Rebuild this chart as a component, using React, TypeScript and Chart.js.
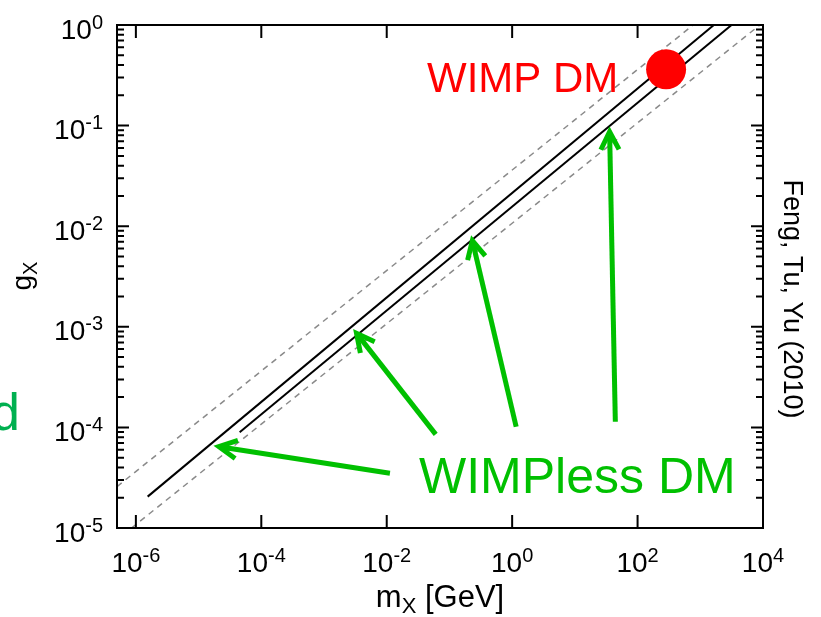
import React, { useEffect, useRef } from 'react';
import { Chart, registerables } from 'chart.js';

Chart.register(...registerables);

// ---- axis ranges ----
const X_MIN = 5.0e-7;
const X_MAX = 1e4;
const Y_MIN = 1e-5;
const Y_MAX = 1;

// ---- tick exponents (labels are 10^e) ----
const xTickExps = [-6, -4, -2, 0, 2, 4];
const yTickExps = [-5, -4, -3, -2, -1, 0];

// ---- curves ----
const upperSolidX = [1.54e-6, 1645];
const upperSolidY = [2.05e-5, 1];
const lowerSolidX = [4.52e-5, 3150];
const lowerSolidY = [8.93e-5, 1];
const upperDashedX = [5.0e-7, 771];
const upperDashedY = [2.58e-5, 1];
const lowerDashedX = [8.53e-7, 1e4];
const lowerDashedY = [1e-5, 1.06];

// ---- WIMP point ----
const wimpX = [285];
const wimpY = [0.363];

// ---- arrows (tail -> tip), data coordinates ----
const arrowTailX = [0.01125, 0.0604, 1.159, 44.2];
const arrowTailY = [3.5e-5, 8.53e-5, 1.016e-4, 1.14e-4];
const arrowTipX = [2.11e-5, 3.3e-3, 0.232, 35.8];
const arrowTipY = [6.43e-5, 8.61e-4, 7.18e-3, 0.0869];

const FONT = '"Liberation Sans", Arial, Helvetica, sans-serif';

const pts = (xs: number[], ys: number[]) => xs.map((x, i) => ({ x, y: ys[i] }));

function drawPow(ctx: CanvasRenderingContext2D, exp: number, x: number, y: number, align: 'right' | 'center') {
  const mainFont = `28px ${FONT}`;
  const supFont = `20px ${FONT}`;
  ctx.font = mainFont;
  const wb = ctx.measureText('10').width;
  ctx.font = supFont;
  const es = String(exp);
  const we = ctx.measureText(es).width;
  const total = wb + we;
  const start = align === 'right' ? x - total : x - total / 2;
  ctx.textAlign = 'left';
  ctx.textBaseline = 'alphabetic';
  ctx.font = mainFont;
  ctx.fillText('10', start, y);
  ctx.font = supFont;
  ctx.fillText(es, start + wb, y - 10);
}

const overlay = {
  id: 'overlay',
  afterDatasetsDraw(chart: any) {
    const { ctx, chartArea: a, scales } = chart;
    const xs = scales.x;
    const ys = scales.y;
    ctx.save();

    // frame
    ctx.strokeStyle = '#000';
    ctx.lineWidth = 2;
    ctx.strokeRect(a.left, a.top, a.right - a.left, a.bottom - a.top);

    // y ticks (major + minor) both sides
    ctx.lineWidth = 2;
    for (let e = -5; e <= 0; e++) {
      for (let m = 1; m <= 9; m++) {
        const v = m * Math.pow(10, e);
        if (v < Y_MIN - 1e-12 || v > Y_MAX + 1e-12) continue;
        const py = ys.getPixelForValue(v);
        const len = m === 1 ? 12 : 7;
        ctx.beginPath();
        ctx.moveTo(a.left, py);
        ctx.lineTo(a.left + len, py);
        ctx.moveTo(a.right, py);
        ctx.lineTo(a.right - len, py);
        ctx.stroke();
      }
    }
    // x ticks (major only) both sides
    xTickExps.forEach((e) => {
      const px = xs.getPixelForValue(Math.pow(10, e));
      ctx.beginPath();
      ctx.moveTo(px, a.bottom);
      ctx.lineTo(px, a.bottom - 13);
      ctx.moveTo(px, a.top);
      ctx.lineTo(px, a.top + 13);
      ctx.stroke();
    });

    // tick labels
    ctx.fillStyle = '#000';
    yTickExps.forEach((e) => {
      const py = ys.getPixelForValue(Math.pow(10, e));
      drawPow(ctx, e, 103, py + 13.5, 'right');
    });
    xTickExps.forEach((e) => {
      const px = xs.getPixelForValue(Math.pow(10, e));
      drawPow(ctx, e, px, a.bottom + 44, 'center');
    });

    // x axis title: m_X [GeV]
    {
      const big = `31px ${FONT}`;
      const small = `22px ${FONT}`;
      ctx.font = big;
      const w1 = ctx.measureText('m').width;
      const w3 = ctx.measureText(' [GeV]').width;
      ctx.font = small;
      const w2 = ctx.measureText('X').width;
      const tot = w1 + w2 + w3;
      const cx = (a.left + a.right) / 2;
      const sx = cx - tot / 2;
      const by = 607;
      ctx.textAlign = 'left';
      ctx.font = big;
      ctx.fillText('m', sx, by);
      ctx.font = small;
      ctx.fillText('X', sx + w1, by + 6);
      ctx.font = big;
      ctx.fillText(' [GeV]', sx + w1 + w2, by);
    }

    // y axis title: g_X (rotated)
    {
      ctx.save();
      ctx.translate(31, 276);
      ctx.rotate(-Math.PI / 2);
      const big = `28px ${FONT}`;
      const small = `20px ${FONT}`;
      ctx.font = big;
      const w1 = ctx.measureText('g').width;
      ctx.font = small;
      const w2 = ctx.measureText('X').width;
      const sx = -(w1 + w2) / 2;
      ctx.textAlign = 'left';
      ctx.font = big;
      ctx.fillText('g', sx, 0);
      ctx.font = small;
      ctx.fillText('X', sx + w1, 6);
      ctx.restore();
    }

    // arrows
    ctx.strokeStyle = '#00c000';
    ctx.lineWidth = 5;
    ctx.lineCap = 'butt';
    ctx.lineJoin = 'miter';
    arrowTipX.forEach((_, i) => {
      const tx = xs.getPixelForValue(arrowTailX[i]);
      const ty = ys.getPixelForValue(arrowTailY[i]);
      const hx = xs.getPixelForValue(arrowTipX[i]);
      const hy = ys.getPixelForValue(arrowTipY[i]);
      const ang = Math.atan2(hy - ty, hx - tx);
      ctx.beginPath();
      ctx.moveTo(tx, ty);
      ctx.lineTo(hx - 2 * Math.cos(ang), hy - 2 * Math.sin(ang));
      ctx.stroke();
      const L = 20;
      const da = (27 * Math.PI) / 180;
      ctx.beginPath();
      ctx.moveTo(hx - L * Math.cos(ang - da), hy - L * Math.sin(ang - da));
      ctx.lineTo(hx, hy);
      ctx.lineTo(hx - L * Math.cos(ang + da), hy - L * Math.sin(ang + da));
      ctx.stroke();
    });

    // annotation texts
    ctx.textAlign = 'left';
    ctx.textBaseline = 'alphabetic';
    ctx.fillStyle = '#ff0000';
    ctx.font = `42px ${FONT}`;
    ctx.fillText('WIMP DM', 427, 92);

    ctx.fillStyle = '#00c000';
    ctx.font = `50px ${FONT}`;
    ctx.fillText('WIMPless DM', 419, 493);

    ctx.fillStyle = '#00b050';
    ctx.font = `52px ${FONT}`;
    ctx.fillText('d', -9, 430);

    // citation, rotated clockwise
    ctx.save();
    ctx.translate(784, 299);
    ctx.rotate(Math.PI / 2);
    ctx.fillStyle = '#000';
    ctx.font = `27px ${FONT}`;
    ctx.textAlign = 'center';
    ctx.fillText('Feng, Tu, Yu (2010)', 0, 0);
    ctx.restore();

    ctx.restore();
  },
};

export default function App() {
  const ref = useRef<HTMLCanvasElement>(null);
  useEffect(() => {
    document.body.style.margin = '0';
    const chart = new Chart(ref.current as HTMLCanvasElement, {
      type: 'line',
      data: {
        datasets: [
          {
            label: 'WIMP DM',
            data: pts(wimpX, wimpY),
            showLine: false,
            pointRadius: 20,
            pointBackgroundColor: '#ff0000',
            pointBorderWidth: 0,
            borderColor: '#ff0000',
          },
          {
            label: 'upper',
            data: pts(upperSolidX, upperSolidY),
            borderColor: '#000',
            borderWidth: 2,
            pointRadius: 0,
          },
          {
            label: 'lower',
            data: pts(lowerSolidX, lowerSolidY),
            borderColor: '#000',
            borderWidth: 2,
            pointRadius: 0,
          },
          {
            label: 'upper dashed',
            data: pts(upperDashedX, upperDashedY),
            borderColor: '#8a8a8a',
            borderWidth: 1.5,
            borderDash: [6, 5],
            pointRadius: 0,
          },
          {
            label: 'lower dashed',
            data: pts(lowerDashedX, lowerDashedY),
            borderColor: '#8a8a8a',
            borderWidth: 1.5,
            borderDash: [6, 5],
            pointRadius: 0,
          },
        ],
      },
      options: {
        responsive: false,
        animation: false,
        devicePixelRatio: 1,
        layout: { padding: { top: 25, right: 58, left: 0, bottom: 0 } },
        plugins: { legend: { display: false }, tooltip: { enabled: false } },
        scales: {
          x: {
            type: 'logarithmic',
            min: X_MIN,
            max: X_MAX,
            grid: { display: false },
            border: { display: false },
            ticks: { display: false },
            afterFit: (s: any) => {
              s.height = 89;
            },
          },
          y: {
            type: 'logarithmic',
            min: Y_MIN,
            max: Y_MAX,
            grid: { display: false },
            border: { display: false },
            ticks: { display: false },
            afterFit: (s: any) => {
              s.width = 117;
            },
          },
        },
      },
      plugins: [overlay],
    } as any);
    return () => chart.destroy();
  }, []);
  return <canvas ref={ref} width={821} height={617} style={{ display: 'block', width: 821, height: 617 }} />;
}
